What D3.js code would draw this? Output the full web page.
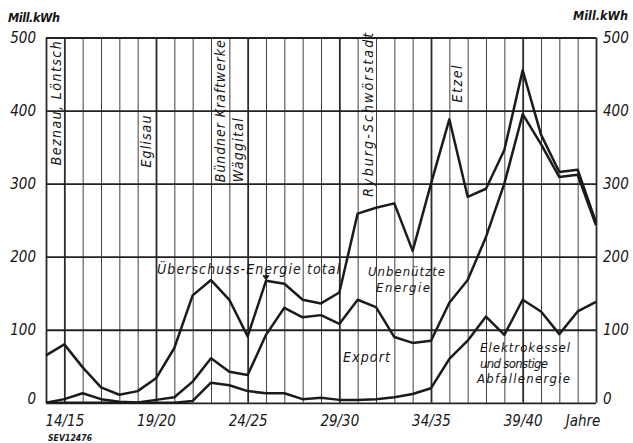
<!DOCTYPE html>
<html>
<head>
<meta charset="utf-8">
<script src="https://cdn.jsdelivr.net/npm/d3@7"></script>
<style>
  body { margin: 0; background: #fff; }
  svg { display: block; }
  text { font-family: "DejaVu Sans Condensed", "DejaVu Sans", sans-serif; font-style: italic; fill: #161616; }
</style>
</head>
<body>
<svg id="chart" width="633" height="443"></svg>
<script>
// Hydrological years (Oct–Sep)
const years = ["13/14","14/15","15/16","16/17","17/18","18/19","19/20","20/21","21/22","22/23",
               "23/24","24/25","25/26","26/27","27/28","28/29","29/30","30/31","31/32","32/33",
               "33/34","34/35","35/36","36/37","37/38","38/39","39/40","40/41","41/42","42/43","43/44"];
const labeledYears = ["14/15","19/20","24/25","29/30","34/35","39/40"];

// Überschuss-Energie total (Mill. kWh)
const ueberschussTotal = [65, 80, 48.5, 21, 11, 16, 33.5, 75, 147, 168,
                          141, 91, 167, 163, 141, 136, 151, 259, 267, 273,
                          208, 300, 388, 282, 293, 346, 455, 367, 316, 319, 247];
// Export + Elektrokessel/Abfallenergie (upper boundary of the Export band)
const exportKumuliert = [0, 5, 13, 5, 1.5, 0.5, 4, 7.5, 29, 61,
                         42.5, 38, 93, 130, 117, 120, 108, 141, 131, 90,
                         82, 85, 137, 168, 227, 300, 395, 354, 309, 312, 243];
// Elektrokessel und sonstige Abfallenergie
const abfallEnergie = [0, 0, 0, 0, 0, 0, 0, 0, 2.5, 27.5,
                       24, 16, 13, 13, 5, 7, 4, 4, 5, 7.5,
                       12, 20, 60, 85, 118, 93, 141, 125, 94, 125, 138];

const yTicks = [0, 100, 200, 300, 400, 500];

// Power plants commissioned, shown as vertical notes
const werke = [
  { text: "Beznau, Löntsch", year: "13/14", dx: 15, v: 325, len: 124 },
  { text: "Eglisau", year: "18/19", dx: 13.5, v: 322, len: 52 },
  { text: "Bündner Kraftwerke", year: "22/23", dx: 14, v: 302, len: 142 },
  { text: "Wäggital", year: "23/24", dx: 14, v: 302, len: 64 },
  { text: "Ryburg-Schwörstadt", year: "30/31", dx: 15, v: 282, len: 164 },
  { text: "Etzel", year: "35/36", dx: 12.5, v: 411, len: 37 }
];

const svg = d3.select("#chart");
const left = 46, right = 596;
const x = d3.scalePoint().domain(years).range([left, right]);
const y = d3.scaleLinear().domain([0, 500]).range([402.8, 37.5]);
const ink = "#1b1b1b";

// vertical grid
const gx = svg.append("g").attr("transform", `translate(0,${y(0)})`)
  .call(d3.axisBottom(x).tickSize(-(y(0) - y(500))).tickFormat(""));
gx.select(".domain").remove();
gx.selectAll(".tick line")
  .attr("stroke", "#2b2b2b")
  .attr("stroke-width", d => (labeledYears.includes(d) || d === years[0] || d === years[years.length - 1]) ? 1.8 : 0.9);

// horizontal grid
const gy = svg.append("g").attr("transform", `translate(${left},0)`)
  .call(d3.axisLeft(y).tickValues(yTicks).tickSize(-(right - left)).tickFormat(""));
gy.select(".domain").remove();
gy.selectAll(".tick line").attr("stroke", "#222").attr("stroke-width", 1.8);

// y tick labels, both sides
function styleY(g) {
  g.select(".domain").remove();
  g.selectAll(".tick text")
    .attr("font-size", 15)
    .attr("fill", "#161616")
    .attr("dy", d => d === 0 ? "0.05em" : "0.32em");
}
svg.append("g").attr("transform", `translate(${left},0)`)
  .call(d3.axisLeft(y).tickValues(yTicks).tickSize(0).tickPadding(10))
  .call(styleY);
svg.append("g").attr("transform", `translate(${right},0)`)
  .call(d3.axisRight(y).tickValues(yTicks).tickSize(0).tickPadding(7))
  .call(styleY);

// x tick labels
const xl = svg.append("g").attr("transform", `translate(0,${y(0)})`)
  .call(d3.axisBottom(x).tickValues(labeledYears).tickSize(0).tickPadding(12.5));
xl.select(".domain").remove();
xl.selectAll(".tick text").attr("font-size", 15).attr("fill", "#161616");

svg.append("text").attr("x", 583).attr("y", 426).attr("text-anchor", "middle")
  .attr("font-size", 15).text("Jahre");

// units
svg.append("text").attr("x", 8).attr("y", 22).attr("font-size", 12.5)
  .attr("font-weight", "bold").attr("textLength", 52).text("Mill.kWh");
svg.append("text").attr("x", 573).attr("y", 20).attr("font-size", 12.5)
  .attr("font-weight", "bold").attr("textLength", 55).text("Mill.kWh");

svg.append("text").attr("x", 48).attr("y", 441).attr("font-size", 8.5)
  .attr("font-weight", "bold").attr("font-style", "normal").attr("textLength", 44).text("SEV12476");

// data lines
const line = d3.line().x((d, i) => x(years[i])).y(d => y(d));
[ueberschussTotal, exportKumuliert, abfallEnergie].forEach(s => {
  svg.append("path").datum(s)
    .attr("d", line)
    .attr("fill", "none")
    .attr("stroke", ink)
    .attr("stroke-width", 2.5)
    .attr("stroke-linejoin", "round");
});

// small marker on the 25/26 peak
const mx = x("25/26"), my = y(ueberschussTotal[12]);
svg.append("path")
  .attr("d", `M${mx - 3},${my - 5} L${mx + 3},${my - 5} L${mx},${my - 1} Z M${mx},${my - 5} L${mx},${my - 8}`)
  .attr("fill", ink).attr("stroke", ink).attr("stroke-width", 1);

// vertical plant labels
werke.forEach(w => {
  svg.append("text")
    .attr("transform", `translate(${x(w.year) + w.dx},${y(w.v)}) rotate(-90)`)
    .attr("font-size", 14)
    .attr("textLength", w.len)
    .text(w.text);
});

// band labels
const notes = [
  { t: "Überschuss-Energie total", x: 157, y: 274, len: 183, fs: 14 },
  { t: "Unbenützte", x: 368, y: 276, len: 77, fs: 13 },
  { t: "Energie", x: 376, y: 292, len: 54, fs: 13 },
  { t: "Export", x: 343, y: 362, len: 47, fs: 14 },
  { t: "Elektrokessel", x: 480, y: 352, len: 90, fs: 13 },
  { t: "und sonstige", x: 480, y: 367.5, len: 68, fs: 13 },
  { t: "Abfallenergie", x: 477, y: 383, len: 93, fs: 13 }
];
notes.forEach(n => {
  svg.append("text").attr("x", n.x).attr("y", n.y)
    .attr("font-size", n.fs).attr("textLength", n.len).text(n.t);
});
</script>
</body>
</html>
